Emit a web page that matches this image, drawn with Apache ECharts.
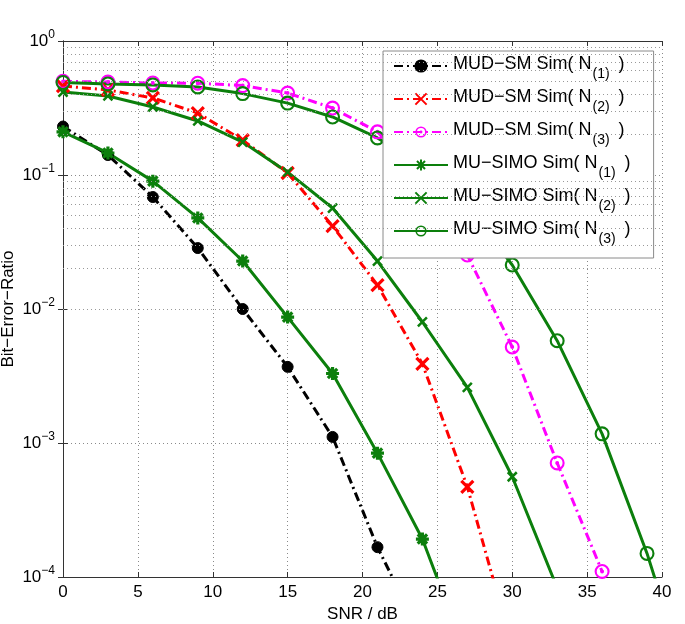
<!DOCTYPE html>
<html>
<head>
<meta charset="utf-8">
<script src="https://cdn.jsdelivr.net/npm/echarts@6/dist/echarts.min.js"></script>
<style>
html,body{margin:0;padding:0;background:#fff;}
#chart{width:685px;height:624px;}
</style>
</head>
<body>
<div id="chart"></div>
<script>
// ---- data ----
const snr = [0, 3, 6, 9, 12, 15, 18, 21, 24, 27, 30, 33, 36, 39, 42];
const mudSmN1 = [0.23, 0.141, 0.0685, 0.0285, 0.0100, 0.0037, 0.00111, 0.000167, 0.000035];
const mudSmN2 = [0.461, 0.431, 0.376, 0.290, 0.182, 0.1035, 0.0416, 0.0151, 0.0039, 0.00047, 0.00003];
const mudSmN3 = [0.50, 0.494, 0.486, 0.484, 0.465, 0.409, 0.316, 0.21, 0.089, 0.0253, 0.0052, 0.00071, 0.00011];
const muSimoN1 = [0.21, 0.146, 0.090, 0.0478, 0.0228, 0.0087, 0.0033, 0.00084, 0.000192, 0.000025];
const muSimoN2 = [0.416, 0.389, 0.322, 0.253, 0.176, 0.105, 0.0567, 0.0228, 0.0080, 0.0026, 0.00056, 0.000083];
const muSimoN3 = [0.49, 0.478, 0.47, 0.454, 0.405, 0.344, 0.271, 0.189, 0.117, 0.059, 0.0213, 0.0058, 0.00117, 0.00015, 0.000013];
const xTicks = [0, 5, 10, 15, 20, 25, 30, 35, 40];
const minorGrid = [2e-4,3e-4,4e-4,5e-4,6e-4,7e-4,8e-4,9e-4,
                   2e-3,3e-3,4e-3,5e-3,6e-3,7e-3,8e-3,9e-3,
                   2e-2,3e-2,4e-2,5e-2,6e-2,7e-2,8e-2,9e-2,
                   0.2,0.3,0.4,0.5,0.6,0.7,0.8,0.9];
const names = ['MUD−SM Sim( N(1) )','MUD−SM Sim( N(2) )','MUD−SM Sim( N(3) )',
               'MU−SIMO Sim( N(1) )','MU−SIMO Sim( N(2) )','MU−SIMO Sim( N(3) )'];

const GREEN = '#0c7f0c';
const FONT = 'Liberation Sans, Arial, sans-serif';
const dashDot = [9, 4, 2, 4];
const ring = 'path://M0,-10A10,10,0,1,1,0,10A10,10,0,1,1,0,-10ZM0,-7.2A7.2,7.2,0,1,0,0,7.2A7.2,7.2,0,1,0,0,-7.2Z';
const ringDot = ring + 'M0,-2.6A2.6,2.6,0,1,1,0,2.6A2.6,2.6,0,1,1,0,-2.6Z';
const xMark = 'path://M-5,-5L5,5M5,-5L-5,5';
const star = 'path://M-5,0L5,0M0,-5L0,5M-3.6,-3.6L3.6,3.6M3.6,-3.6L-3.6,3.6';

function pairs(vals){ return vals.map((v,i)=>[snr[i], v]); }
function legendText(name){
  const m = name.match(/^(.*N)\((\d)\)(.*)$/);
  return '{m|' + m[1] + '}{s|(' + m[2] + ')}{m|' + m[3] + '}';
}

const chart = echarts.init(document.getElementById('chart'), null, {renderer:'canvas'});

const sup = {base:{fontSize:17,fontFamily:FONT,color:'#000'}, e:{fontSize:12,fontFamily:FONT,color:'#000',padding:[0,0,13,0]}};

const series = [
  {name:names[0], data:pairs(mudSmN1), color:'#000', lt:dashDot, symbol:'circle', size:11, bw:1},
  {name:names[1], data:pairs(mudSmN2), color:'#ff0000', lt:dashDot, symbol:xMark, size:12, bw:3.2},
  {name:names[2], data:pairs(mudSmN3), color:'#ff00ff', lt:dashDot, symbol:ringDot, size:15, bw:0},
  {name:names[3], data:pairs(muSimoN1), color:GREEN, lt:'solid', symbol:star, size:13, bw:3.2},
  {name:names[4], data:pairs(muSimoN2), color:GREEN, lt:'solid', symbol:xMark, size:9, bw:2.5},
  {name:names[5], data:pairs(muSimoN3), color:GREEN, lt:'solid', symbol:ring, size:15, bw:0}
].map((s, idx) => {
  const o = {
    name: s.name, type:'line', data:s.data, clip:true,
    symbol: s.symbol, symbolSize: s.size, showAllSymbol:true,
    lineStyle:{color:s.color, width:3, type:s.lt},
    itemStyle:{color:s.color, borderColor:s.color, borderWidth:s.bw},
    emphasis:{disabled:true}, z: 3
  };
  if (idx === 0) {
    o.markLine = {
      silent:true, symbol:['none','none'], label:{show:false}, animation:false,
      lineStyle:{color:'#999', type:[1,3], width:1},
      data: minorGrid.map(v => ({yAxis:v}))
    };
  }
  return o;
});

const option = {
  backgroundColor:'#fff',
  animation:false,
  grid:{left:63, right:23, top:41, bottom:47, containLabel:false, outerBoundsMode:'none'},
  legend:{
    orient:'vertical', left:383, top:51,
    padding:[4,23,0,10], itemGap:-5, itemWidth:54, itemHeight:14,
    backgroundColor:'#fff', borderColor:'#8a8a8a', borderWidth:1,
    data: names,
    formatter: legendText,
    textStyle:{fontSize:18, fontFamily:FONT, color:'#000',
      rich:{
        m:{fontSize:18, fontFamily:FONT, color:'#000', lineHeight:22, verticalAlign:'top'},
        s:{fontSize:14, fontFamily:FONT, color:'#000', lineHeight:16, verticalAlign:'top', padding:[12,4,12,1]}
      }},
    selectedMode:false
  },
  xAxis:[{
    type:'value', min:0, max:40, interval:5,
    name:'SNR / dB', nameLocation:'middle', nameGap:19,
    nameTextStyle:{fontSize:17, fontFamily:FONT, color:'#000'},
    axisLine:{lineStyle:{color:'#333', width:1}},
    axisTick:{inside:true, length:5, lineStyle:{color:'#333'}},
    axisLabel:{fontSize:17, fontFamily:FONT, color:'#000', margin:7},
    splitLine:{show:true, lineStyle:{color:'#8a8a8a', type:[1,3], width:1}}
  },{
    type:'value', min:0, max:40, interval:5, position:'top',
    axisLine:{lineStyle:{color:'#333', width:1}},
    axisTick:{inside:true, length:5, lineStyle:{color:'#333'}},
    axisLabel:{show:false}, splitLine:{show:false}
  }],
  yAxis:[{
    type:'log', logBase:10, min:0.0001, max:1,
    name:'Bit−Error−Ratio', nameLocation:'middle', nameGap:46, nameMoveOverlap:false,
    nameTextStyle:{fontSize:17, fontFamily:FONT, color:'#000'},
    axisLine:{lineStyle:{color:'#333', width:1}},
    axisTick:{inside:true, length:5, lineStyle:{color:'#333'}},
    axisLabel:{margin:8, formatter:function(v){
      const e = Math.round(Math.log10(v));
      return '{base|10}{e|' + (e < 0 ? '−' + (-e) : e) + '}';
    }, rich:sup},
    splitLine:{show:true, lineStyle:{color:'#8a8a8a', type:[1,3], width:1}}
  },{
    type:'log', logBase:10, min:0.0001, max:1, position:'right',
    axisLine:{lineStyle:{color:'#333', width:1}},
    axisTick:{inside:true, length:5, lineStyle:{color:'#333'}},
    axisLabel:{show:false}, splitLine:{show:false}
  }],
  series: series
};
chart.setOption(option);
</script>
</body>
</html>
